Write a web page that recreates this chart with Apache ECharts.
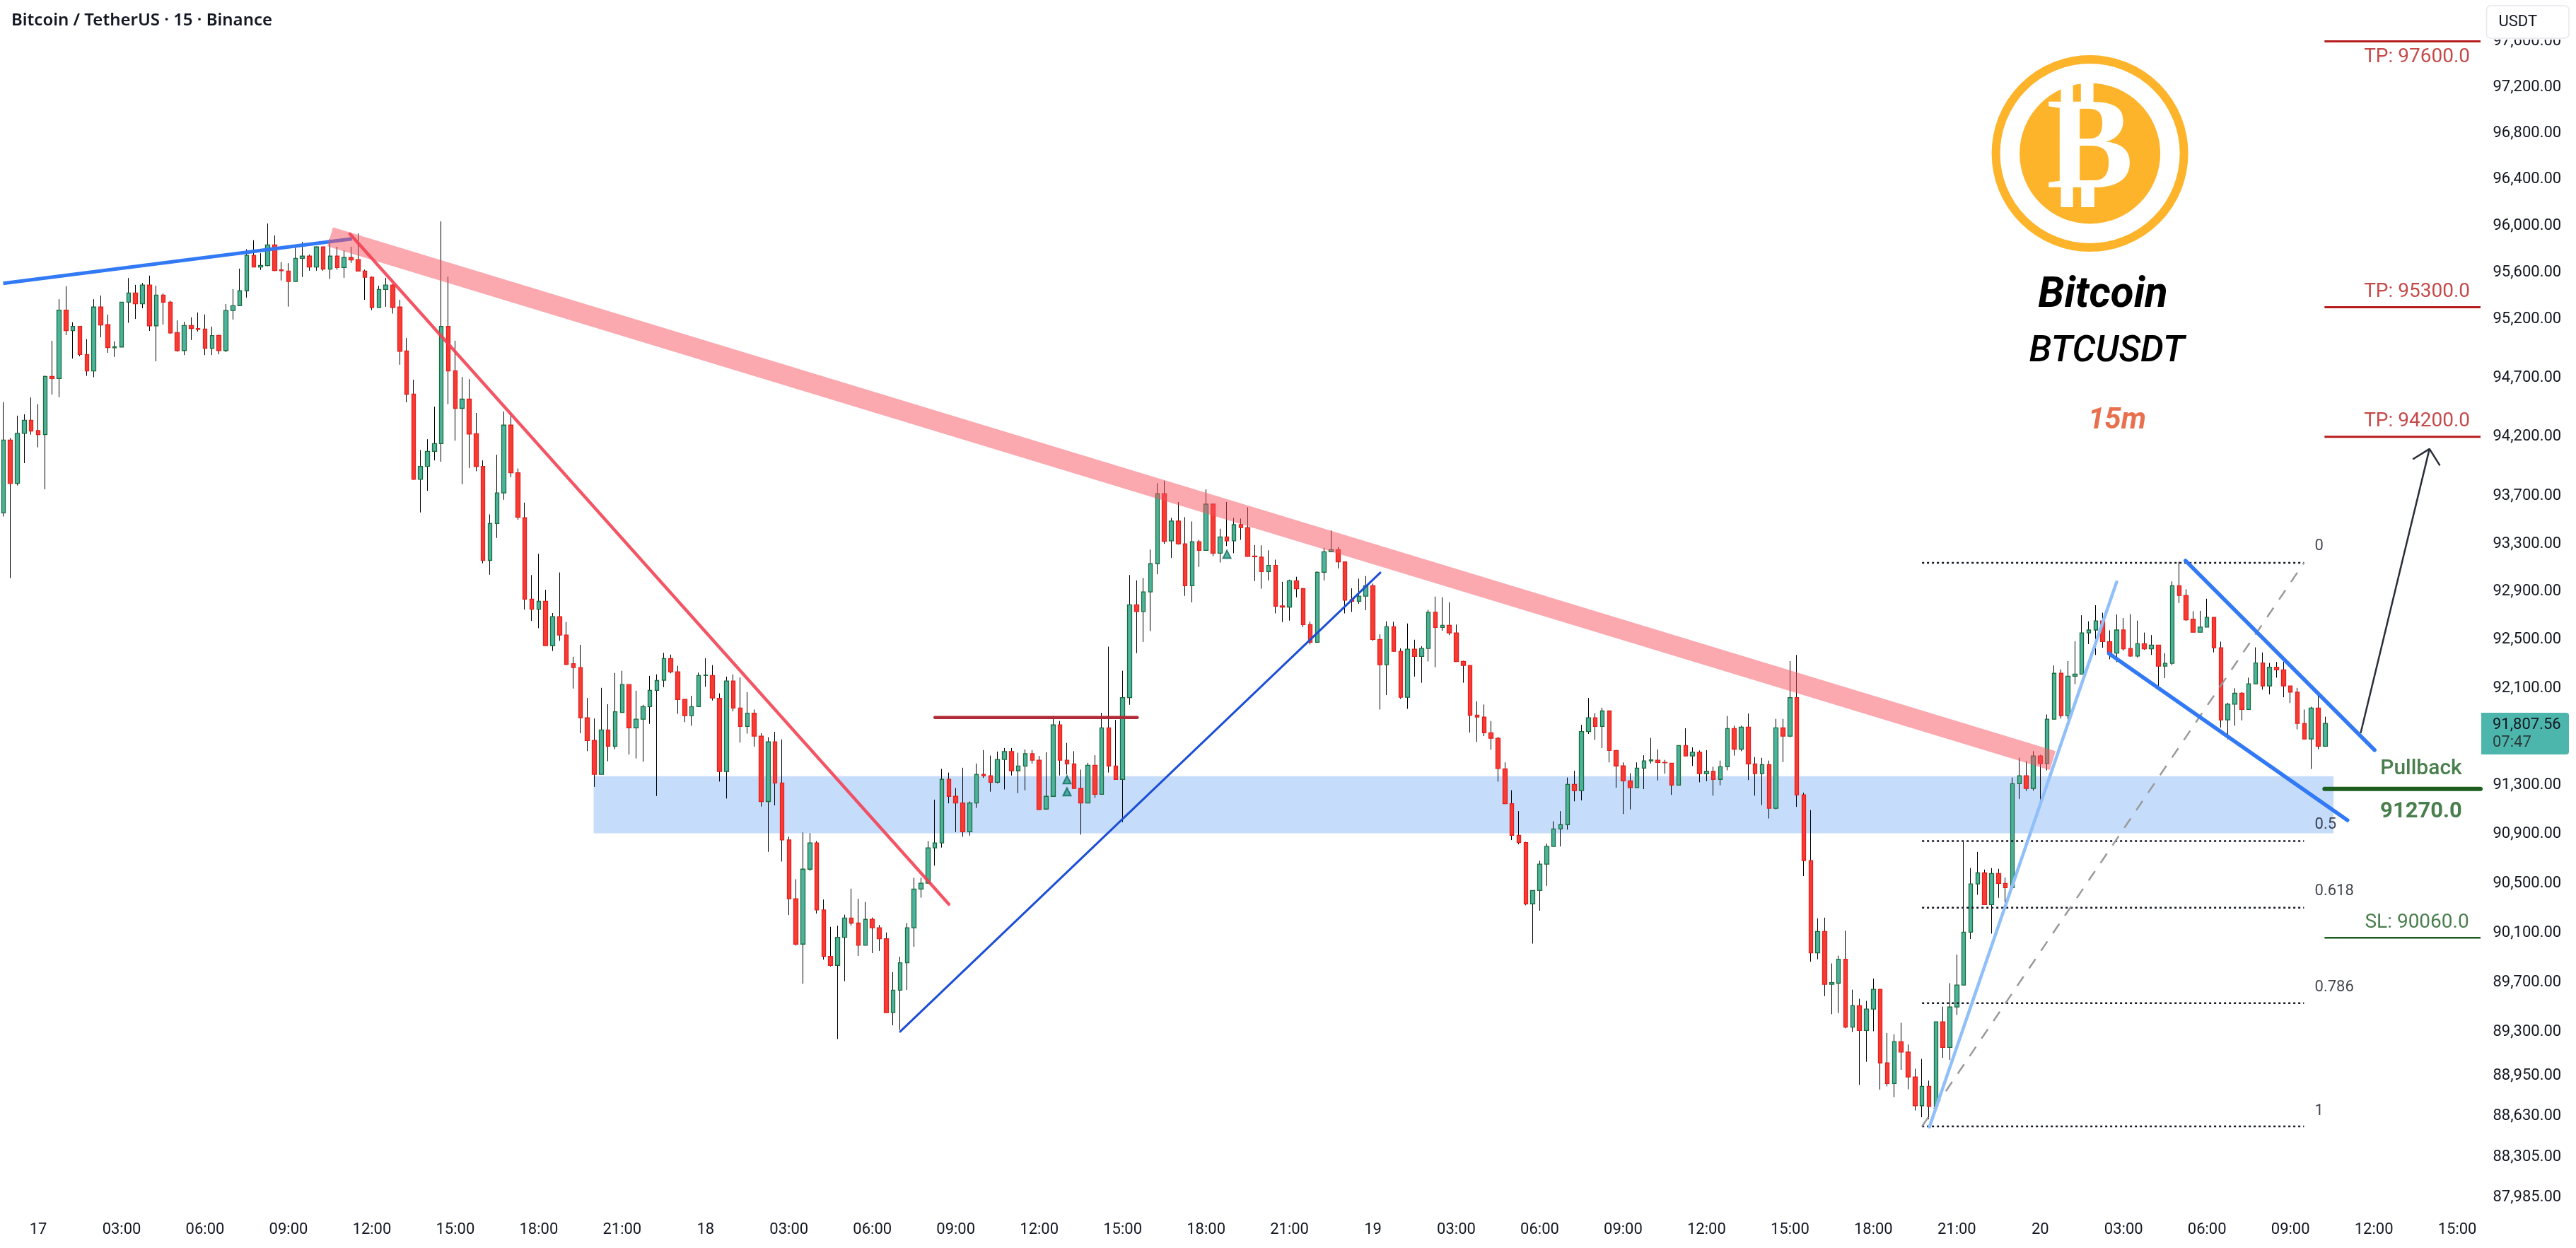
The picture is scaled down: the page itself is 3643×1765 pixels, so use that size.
<!DOCTYPE html>
<html><head><meta charset="utf-8">
<style>html,body{margin:0;padding:0;background:#fff}#c{width:3643px;height:1765px}</style>
<script src="https://cdn.jsdelivr.net/npm/echarts@6/dist/echarts.min.js"></script>
</head><body><div id="c"></div>
<script>
// [open, close, low, high], one row per 15-minute bar
const candles = [
[93558,94172,93528,94493],[94172,93807,93013,94188],[93807,94229,93789,94378],[94229,94339,93977,94390],[94339,94248,94218,94532],[94252,94218,94110,94475],[94218,94711,93757,94718],[94711,94693,94557,95014],[94693,95276,94534,95369],[95276,95100,95063,95480],
[95100,95137,94862,95172],[95137,94897,94883,95137],[94897,94757,94716,95028],[94757,95302,94704,95369],[95302,95149,95044,95401],[95151,94956,94911,95237],[94954,94963,94876,95009],[94961,95343,94961,95343],[95343,95422,95167,95550],[95422,95330,95200,95492],
[95330,95490,95292,95508],[95490,95142,95098,95571],[95142,95404,94839,95485],[95404,95343,95153,95420],[95343,95081,95074,95357],[95084,94931,94920,95188],[94931,95144,94892,95176],[95144,95118,95021,95214],[95118,95111,95093,95255],[95114,94950,94892,95239],
[94950,95058,94892,95135],[95060,94931,94899,95065],[94931,95272,94917,95327],[95272,95313,95195,95455],[95313,95441,95311,95631],[95441,95745,95383,95798],[95745,95645,95645,95875],[95645,95659,95620,95763],[95657,95835,95652,96019],[95835,95615,95610,95916],
[95620,95613,95529,95687],[95610,95520,95306,95678],[95520,95719,95520,95833],[95719,95738,95559,95861],[95738,95645,95613,95752],[95645,95817,95613,95821],[95817,95626,95613,95817],[95626,95738,95543,95886],[95738,95640,95622,95819],[95640,95726,95552,95787],
[95726,95705,95680,95819],[95708,95610,95608,95933],[95610,95557,95364,95622],[95557,95299,95276,95564],[95299,95452,95299,95485],[95452,95490,95304,95552],[95490,95299,95246,95497],[95302,94924,94810,95364],[94927,94560,94491,95037],[94560,93841,93837,94683],
[93841,93950,93562,94087],[93950,94076,93744,94179],[94076,94142,94000,94454],[94142,95137,93989,96037],[95137,94757,94475,95562],[94759,94440,94167,95014],[94440,94518,93800,94706],[94518,94222,93936,94688],[94225,93948,93909,94401],[93950,93161,93136,94000],
[93161,93469,93041,93546],[93469,93726,93349,94048],[93726,94298,93669,94413],[94298,93896,93859,94390],[93896,93521,93501,93932],[93519,92838,92751,93645],[92838,92754,92656,93039],[92754,92820,92596,93216],[92820,92452,92452,92916],[92452,92692,92407,92722],
[92692,92539,92491,93060],[92539,92296,92290,92647],[92302,92269,92096,92359],[92269,91855,91728,92458],[91855,91668,91580,92018],[91668,91390,91287,91849],[91390,91754,91390,92102],[91754,91621,91497,91967],[91621,91905,91597,92225],[91899,92129,91899,92243],
[92129,91772,91553,92129],[91772,91843,91520,92078],[91843,91947,91494,91962],[91947,92081,91805,92201],[92081,92162,91213,92213],[92165,92344,92108,92392],[92344,92234,92222,92377],[92234,92006,91888,92284],[92006,91873,91819,92006],[91873,91947,91790,92036],
[91947,92204,91947,92228],[92204,92207,92111,92347],[92204,92018,91997,92290],[92015,91414,91331,92057],[91414,92159,91192,92195],[92159,91935,91908,92213],[91935,91784,91651,92189],[91784,91893,91725,92066],[91893,91704,91618,91923],[91704,91168,91127,91728],
[91168,91657,90757,91695],[91657,91319,91136,91740],[91319,90854,90678,91677],[90854,90376,90244,90880],[90376,90009,89997,90534],[90009,90616,89690,90915],[90616,90830,90602,90909],[90830,90285,90256,90845],[90285,89910,89884,90370],[89910,89838,89829,90149],
[89838,90064,89246,90158],[90064,90220,89710,90247],[90220,90179,90158,90458],[90179,90000,89913,90376],[90000,90209,90000,90350],[90209,90141,89936,90224],[90141,90053,89954,90164],[90053,89458,89455,90103],[89458,89638,89356,89783],[89638,89858,89319,89907],
[89858,90141,89640,90179],[90141,90455,89988,90546],[90455,90502,90385,90546],[90502,90789,90502,90845],[90789,90830,90645,91183],[90830,91349,90792,91435],[91349,91210,91153,91405],[91210,91156,90918,91278],[91156,90921,90880,91444],[90921,91156,90889,91168],
[91156,91390,91115,91479],[91390,91378,91361,91589],[91378,91325,91248,91544],[91325,91512,91316,91577],[91512,91577,91266,91606],[91577,91420,91381,91606],[91420,91458,91236,91568],[91458,91559,91260,91594],[91559,91506,91479,91589],[91506,91103,91100,91541],
[91106,91210,91106,91571],[91210,91796,91210,91870],[91796,91506,91381,91828],[91506,91476,91390,91648],[91476,91275,91272,91580],[91275,91156,90897,91429],[91156,91464,91156,91485],[91464,91227,91198,91547],[91227,91772,91227,91896],[91772,91458,91405,92443],
[91458,91349,91346,91837],[91349,92021,91000,92243],[92021,92790,91962,93039],[92790,92734,92389,92994],[92734,92898,92482,93015],[92898,93133,92572,93251],[93133,93720,93045,93808],[93720,93320,93299,93829],[93324,93490,93181,93517],[93490,93299,93293,93650],
[93299,92949,92865,93523],[92949,93317,92811,93487],[93317,93245,93106,93333],[93245,93632,93245,93756],[93632,93221,93197,93638],[93221,93357,93143,93426],[93357,93324,93281,93650],[93324,93460,93221,93517],[93460,93436,93333,93511],[93436,93194,93191,93605],
[93197,93191,92988,93290],[93188,93067,92925,93287],[93067,93119,92994,93245],[93119,92778,92719,93167],[92781,92772,92647,92982],[92772,92991,92659,93000],[92991,92925,92853,93024],[92925,92626,92605,92931],[92626,92479,92461,92650],[92479,93061,92479,93070],
[93061,93233,92994,93266],[93233,93251,93233,93411],[93251,93149,93094,93272],[93149,92829,92719,93149],[92835,92820,92731,92928],[92820,92862,92799,93009],[92862,92949,92746,93030],[92949,92503,92491,92967],[92503,92293,91923,92545],[92293,92608,92042,92653],
[92608,92404,92401,92650],[92404,92024,92012,92428],[92024,92422,91929,92635],[92422,92362,92195,92500],[92362,92428,92144,92446],[92428,92728,92320,92749],[92728,92602,92272,92859],[92602,92620,92575,92853],[92620,92557,92539,92811],[92557,92320,92317,92626],
[92320,92287,92144,92326],[92287,91876,91734,92287],[91876,91861,91657,91991],[91861,91731,91704,91964],[91731,91686,91592,91828],[91686,91438,91331,91698],[91435,91150,91147,91488],[91150,90892,90853,91260],[90892,90833,90818,91089],[90833,90335,90323,90839],
[90335,90443,90013,90443],[90443,90657,90279,90684],[90657,90801,90481,90824],[90801,90944,90801,91006],[90944,90979,90801,91089],[90979,91308,90938,91364],[91308,91257,91169,91420],[91257,91742,91177,91796],[91742,91855,91722,92018],[91855,91784,91674,91893],
[91784,91911,91606,91938],[91911,91586,91488,91911],[91586,91459,91281,91586],[91459,91337,91065,91488],[91337,91281,91103,91399],[91281,91441,91281,91488],[91441,91500,91269,91547],[91500,91509,91479,91689],[91506,91488,91340,91594],[91488,91485,91396,91509],
[91482,91302,91222,91482],[91302,91627,91302,91627],[91627,91541,91541,91769],[91541,91571,91459,91612],[91571,91396,91325,91586],[91396,91414,91334,91589],[91414,91349,91216,91452],[91349,91452,91301,91503],[91452,91766,91423,91870],[91766,91597,91544,91790],
[91597,91778,91580,91790],[91778,91476,91343,91890],[91476,91396,91216,91532],[91396,91470,91139,91526],[91470,91112,91029,91503],[91112,91772,91103,91846],[91772,91704,91491,91846],[91704,92021,91695,92323],[92021,91222,91124,92374],[91222,90686,90560,91240],
[90686,89939,89867,91098],[89939,90111,89887,90217],[90111,89685,89590,90223],[89685,89699,89445,89853],[89694,89887,89454,89916],[89887,89341,89332,90118],[89341,89514,89303,89642],[89514,89315,88880,89569],[89315,89486,89064,89552],[89486,89645,89309,89731],
[89645,89055,88842,89645],[89055,88891,88868,89295],[88891,89225,88782,89283],[89225,89142,89000,89376],[89142,88943,88845,89202],[88943,88714,88676,89009],[88714,88868,88622,89087],[88868,88708,88607,88914],[88708,89384,88708,89384],[89384,89179,89095,89506],
[89179,89503,89078,89694],[89503,89679,89439,89925],[89679,90105,89679,90839],[90105,90496,90050,90625],[90496,90586,90408,90757],[90586,90329,90329,90613],[90329,90581,90094,90625],[90581,90501,90384,90619],[90501,90466,90290,90548],[90466,91313,90466,91364],
[91313,91378,91189,91526],[91378,91275,91254,91497],[91275,91541,91257,91580],[91541,91479,91177,91550],[91479,91843,91423,91882],[91843,92222,91843,92287],[92222,91873,91849,92254],[91873,92198,91814,92323],[92198,92216,92132,92488],[92216,92557,92216,92704],
[92557,92581,92464,92653],[92581,92656,92374,92787],[92656,92485,92434,92725],[92485,92389,92338,92578],[92389,92581,92314,92710],[92581,92425,92410,92680],[92428,92365,92359,92713],[92365,92467,92353,92659],[92467,92425,92416,92560],[92425,92455,92374,92539],
[92455,92281,92114,92455],[92281,92305,92183,92389],[92305,92949,92290,92985],[92949,92868,92805,93150],[92868,92665,92656,92919],[92671,92563,92560,92737],[92563,92605,92563,92740],[92605,92686,92605,92841],[92686,92434,92395,92686],[92434,91837,91775,92485],
[91837,91967,91677,91979],[91967,92057,91790,92099],[92057,91923,91834,92066],[91923,92135,91923,92186],[92135,92308,92135,92437],[92308,92117,92087,92395],[92117,92272,92048,92308],[92272,92251,92186,92317],[92251,92117,92024,92317],[92117,92066,91976,92117],
[92066,91808,91760,92102],[91808,91680,91680,91923],[91680,91935,91435,91947],[91935,91621,91597,92042],[91621,91807.56,91621,91864]
];
const barCount = 357;
const firstTickBar = 5, tickStep = 12;
const timeTicks = ['17','03:00','06:00','09:00','12:00','15:00','18:00','21:00','18','03:00','06:00','09:00','12:00','15:00','18:00','21:00','19','03:00','06:00','09:00','12:00','15:00','18:00','21:00','20','03:00','06:00','09:00','12:00','15:00'];
const priceTicks = [97600,97200,96800,96400,96000,95600,95200,94700,94200,93700,93300,92900,92500,92100,91700,91300,90900,90500,90100,89700,89300,88950,88630,88305,87985];

// drawings: [bar index, price]
const upperTrend = [[-0.04,95505],[50.15,95887]];
const pinkTrend = [[47,95905],[294.8,91503]];
const redTrend = [[49.84,95929],[136,90332]];
const supportLine = [[129,89306],[198.07,93058]];
const resistanceLevel = [[134,91857],[163.1,91857]];
const zoneBars = [84.9,335.2], zonePrices = [91375,90908];
const fibBars = [276,330.95];
const fibLevels = [93141,90845,90304,89533,88550];
const fibLabels = ['0','0.5','0.618','0.786','1'];
const fibLabelPoints = [[332.5,93278],[332.5,90980],[332.5,90435],[332.5,89660],[332.5,88668]];
const fibDiagonal = [[276,88550],[330.95,93141]];
const riseLine = [[277.06,88545],[304,92981]];
const wedgeUpper = [[313.9,93159],[341.1,91590]];
const wedgeLower = [[302.9,92386],[337.2,91015]];
const arrowShaft = [[339.1,91729],[349,94097]];
const arrowHead = [[346.6,94010],[349,94097],[350.5,93957]];
const targetBars = [333.9,356.35];
const takeProfits = [97600,95300,94200];
const takeProfitLabels = ['TP: 97600.0','TP: 95300.0','TP: 94200.0'];
const takeProfitLabelPoints = [[347.2,97463],[347.2,95432],[347.2,94331]];
const stopLoss = 90060;
const pullback = 91270;
const triangles = [[153,91346],[153,91247],[176,93212]];

const GREEN_BODY='#4cb39e', GREEN_EDGE='#1c6b3c', RED_BODY='#f83b33', RED_EDGE='#e3201f';
const DARK_RED='#b71c1c', DARK_GREEN='#1b5e20', INK='#131722', FONT='Roboto';

const categories = Array.from({length:barCount},(_, i)=>{
  const k=(i-firstTickBar)/tickStep;
  return Number.isInteger(k)&&timeTicks[k]!==undefined?timeTicks[k]:'b'+i;
});
const line=(name,data,color,width,extra={})=>({name,type:'line',xAxisIndex:1,yAxisIndex:0,data,symbol:'none',silent:true,z:5,clip:false,animation:false,
  lineStyle:Object.assign({color,width,cap:'butt'},extra)});
const horiz=(name,bars,price,color,width,extra)=>line(name,bars.map(b=>[b,price]),color,width,extra);
const textSeries=(name,points,labels,label)=>({name,type:'scatter',xAxisIndex:1,yAxisIndex:0,symbolSize:0,silent:true,z:6,clip:false,animation:false,
  data:points.map((p,i)=>({value:p,name:labels[i]})),
  label:Object.assign({show:true,formatter:'{b}',fontFamily:FONT},label)});

const series=[
 {name:'zone',type:'line',xAxisIndex:1,yAxisIndex:0,data:[],z:1,silent:true,animation:false,
  markArea:{silent:true,itemStyle:{color:'#c6dcfb'},z:1,data:[[{coord:[zoneBars[0],zonePrices[0]]},{coord:[zoneBars[1],zonePrices[1]]}]]}},
 {name:'wicks',type:'candlestick',xAxisIndex:0,yAxisIndex:0,data:candles,barWidth:1,z:2,silent:true,animation:false,
  itemStyle:{color:'#000',color0:'#000',borderColor:'#000',borderColor0:'#000',borderWidth:1}},
 {name:'bodies',type:'candlestick',xAxisIndex:0,yAxisIndex:0,data:candles.map(r=>[r[0],r[1],Math.min(r[0],r[1]),Math.max(r[0],r[1])]),barWidth:6,z:3,silent:true,animation:false,
  itemStyle:{color:GREEN_BODY,color0:RED_BODY,borderColor:GREEN_EDGE,borderColor0:RED_EDGE,borderWidth:1.3}},
 line('upperTrend',upperTrend,'#3179f5',5),
 line('pinkTrend',pinkTrend,'rgba(247,82,95,0.5)',28),
 line('redTrend',redTrend,'rgba(242,62,80,0.88)',4.5,{cap:'round'}),
 line('supportLine',supportLine,'#1c4fd6',3,{cap:'round'}),
 line('resistanceLevel',resistanceLevel,'#b02a37',4.5,{cap:'round'}),
 ...fibLevels.map((p,i)=>horiz('fib'+fibLabels[i],fibBars,p,INK,2.5,{type:[3,4]})),
 line('fibDiagonal',fibDiagonal,'#9a9a9a',2.5,{type:[16,14]}),
 line('riseLine',riseLine,'#90bff9',4.5,{cap:'round'}),
 line('wedgeUpper',wedgeUpper,'#3179f5',5.5,{cap:'round'}),
 line('wedgeLower',wedgeLower,'#3179f5',5.5,{cap:'round'}),
 line('arrowShaft',arrowShaft,'#2a2e39',2.5),
 line('arrowHead',arrowHead,'#2a2e39',2.5),
 ...takeProfits.map((p,i)=>horiz('tp'+i,targetBars,p,DARK_RED,3)),
 horiz('stopLoss',targetBars,stopLoss,DARK_GREEN,2.5),
 horiz('pullback',targetBars,pullback,DARK_GREEN,6,{cap:'round'}),
 textSeries('fibText',fibLabelPoints,fibLabels,{position:'right',distance:0,fontSize:22,color:INK}),
 textSeries('tpText',takeProfitLabelPoints,takeProfitLabels,{position:'inside',fontSize:28,color:DARK_RED}),
 textSeries('slText',[[347.2,90180]],['SL: 90060.0'],{position:'inside',fontSize:28,color:DARK_GREEN}),
 textSeries('pullbackWord',[[347.8,91433]],['Pullback'],{position:'inside',fontSize:30,fontWeight:500,color:DARK_GREEN}),
 textSeries('pullbackPrice',[[347.8,91085]],['91270.0'],{position:'inside',fontSize:31,fontWeight:700,color:DARK_GREEN}),
 {name:'signals',type:'scatter',xAxisIndex:1,yAxisIndex:0,symbol:'triangle',symbolSize:[11,11],z:6,silent:true,animation:false,
  data:triangles,itemStyle:{color:'#2a9d8f',borderColor:'#0e6b5c',borderWidth:2}}
];

const ORANGE='#fdb42b';
const graphic=[
 {type:'text',left:16,top:17,z:100,style:{text:'Bitcoin / TetherUS · 15 · Binance',font:'600 24px "Noto Sans"',fill:INK}},
 {type:'circle',z:100,shape:{cx:2955.6,cy:217,r:133},style:{fill:'none',stroke:ORANGE,lineWidth:12}},
 {type:'circle',z:100,shape:{cx:2955.6,cy:217,r:99.5},style:{fill:ORANGE}},
 {type:'text',z:101,x:2955.6,y:217,style:{text:'₿',font:'bold 184px "DejaVu Sans"',fill:'#fff',align:'center',verticalAlign:'middle'}},
 {type:'text',z:100,x:2974,y:419,style:{text:'Bitcoin',font:'italic bold 60px Roboto',fill:'#000',align:'center',verticalAlign:'middle'}},
 {type:'text',z:100,x:2979.5,y:498,style:{text:'BTCUSDT',font:'italic 500 52px Roboto',fill:'#000',align:'center',verticalAlign:'middle'}},
 {type:'text',z:100,x:2994,y:595,style:{text:'15m',font:'italic bold 42px Roboto',fill:'#e8704f',align:'center',verticalAlign:'middle'}},
 {type:'rect',z:100,shape:{x:3509,y:0,width:134,height:56},style:{fill:'#fff'}},
 {type:'rect',z:101,shape:{x:3516.5,y:8,width:116.5,height:46,r:6},style:{fill:'#fff',stroke:'#e6e8ee',lineWidth:1.5}},
 {type:'text',z:102,x:3533.5,y:31,style:{text:'USDT',font:'22px Roboto',fill:INK,verticalAlign:'middle'}},
 {type:'rect',z:100,shape:{x:3509,y:1008,width:124,height:59,r:[0,4,4,0]},style:{fill:'#4db6ac'}},
 {type:'text',z:101,x:3525,y:1025,style:{text:'91,807.56',font:'22px Roboto',fill:INK,verticalAlign:'middle'}},
 {type:'text',z:101,x:3525,y:1050,style:{text:'07:47',font:'22px Roboto',fill:'#2a3a3a',verticalAlign:'middle'}}
];

const chart=echarts.init(document.getElementById('c'),null,{renderer:'canvas'});
chart.setOption({
 animation:false,backgroundColor:'#fff',
 grid:{left:-4.5,top:0,width:3514,height:1710,containLabel:false},
 xAxis:[
  {type:'category',data:categories,boundaryGap:true,axisLine:{show:false},axisTick:{show:false},splitLine:{show:false},
   axisLabel:{interval:(i)=>(i-firstTickBar)%tickStep===0&&i>=firstTickBar,margin:18,fontSize:22,fontFamily:FONT,color:INK,hideOverlap:false}},
  {type:'value',show:false,min:-0.5,max:barCount-0.5,splitLine:{show:false}}
 ],
 yAxis:[{type:'log',logBase:10,position:'right',min:87895,max:97963,axisLine:{show:false},axisTick:{show:false},splitLine:{show:false},
   axisLabel:{customValues:priceTicks,margin:16,fontSize:22,fontFamily:FONT,color:INK,
     formatter:v=>Number(v).toLocaleString('en-US',{minimumFractionDigits:2,maximumFractionDigits:2})}}],
 series,graphic
});
</script></body></html>
